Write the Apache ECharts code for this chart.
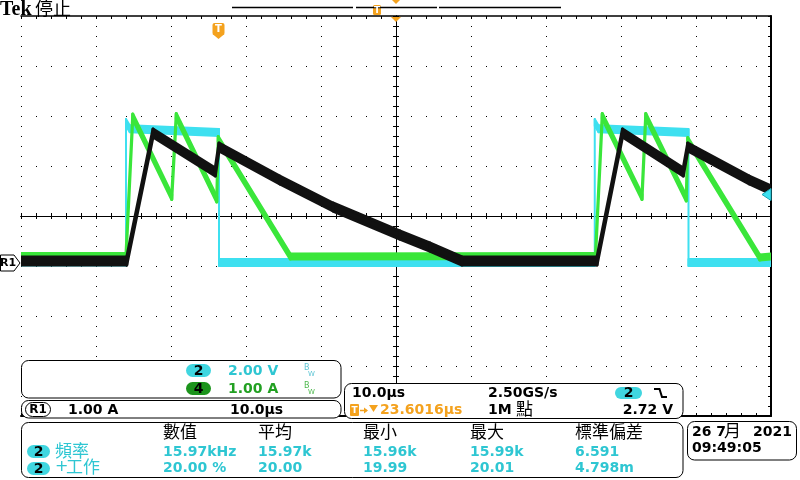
<!DOCTYPE html>
<html><head><meta charset="utf-8">
<script src="https://cdn.jsdelivr.net/npm/echarts@6/dist/echarts.min.js"></script>
<style>html,body{margin:0;padding:0;background:#fff}#c{width:800px;height:480px}</style>
</head><body><div id="c"></div>
<script>
// ---------------- data (time in µs relative to screen centre) ----------------
const cyanTimes  = [-50, -36.0, -36.0, -35.5, -23.6, -23.6, 26.5, 26.5, 27.0, 39.0, 39.0, 50];
const cyanVolts  = [0.02, 0.02, 5.6, 5.35, 5.2, 0.0, 0.0, 5.6, 5.35, 5.2, 0.0, 0.0];

const greenTimes = [-50, -36.0, -35.1, -29.9, -29.3, -23.9, -23.7, -14.1, 26.6, 27.5, 32.8, 33.3, 38.7, 38.9, 48.5, 50];
const greenAmps  = [0.13, 0.13, 2.92, 1.31, 2.93, 1.26, 2.47, 0.12, 0.13, 2.93, 1.31, 2.93, 1.28, 2.45, 0.10, 0.12];

const refTimes   = [-50, -35.9, -32.4, -24.1, -23.6, -15.5, -8.4, 0.5, 4.5, 8.8, 26.8, 30.2, 38.3, 38.9, 47.1, 50];
const refAmps    = [0.03, 0.03, 2.59, 1.81, 2.31, 1.65, 1.11, 0.55, 0.31, 0.03, 0.03, 2.59, 1.81, 2.31, 1.65, 1.45];

const timePerDiv = 10;       // µs/div
const ch2VoltsPerDiv = 2.0;  // V/div
const ampsPerDiv = 1.0;      // A/div (ch4 and R1)
const triggerLevelV = 2.72;
const triggerPosUs = -23.6016;

const chanRows = [['2', '2.00 V'], ['4', '1.00 A']];
const refRow = ['R1', '1.00 A', '10.0µs'];
const horizRow1 = ['10.0µs', '2.50GS/s', '2'];
const horizRow2 = ['23.6016µs', '1M', '點', '2.72 V'];
const measHeaders = ['數值', '平均', '最小', '最大', '標準偏差'];
const measRow1 = ['15.97kHz', '15.97k', '15.96k', '15.99k', '6.591'];
const measRow2 = ['20.00 %', '20.00', '19.99', '20.01', '4.798m'];
const measNames = ['頻率', '工作'];
const dateText = ['26 7', '月', '2021', '09:49:05'];

// ---------------- layout / style ----------------
const GROUND_DIV = -0.93;
const CYAN = '#3ee0f0', GREEN = '#3ae63a', BLACK = '#111111';
const CYAN_TXT = '#2ec6d2', GREEN_TXT = '#22a022', CYAN_PILL = '#40d6e0', GREEN_PILL = '#1c941c', ORANGE = '#f4a21e';
const NUM = 'bold 14px "DejaVu Sans"';
const CJK = '17px "Noto Sans CJK TC"';
const T_MIN = -5 * timePerDiv, T_MAX = 5 * timePerDiv;
function rect() { return {left: 21, top: 16, width: 750, height: 400, outerBoundsMode: 'none'}; }

const chart = echarts.init(document.getElementById('c'), null, {renderer: 'canvas'});

function band(name, times, vals, yIdx, color, half, lw, z) {
  const data = times.map((t, i) => [t, vals[i]]);
  return {
    type: 'custom', name, xAxisIndex: 5, yAxisIndex: yIdx, z, clip: true, silent: true,
    data, encode: {x: 0, y: 1},
    renderItem(params, api) {
      const i = params.dataIndex;
      if (i >= data.length - 1) return null;
      const p1 = api.coord(data[i]), p2 = api.coord(data[i + 1]);
      return {
        type: 'polygon',
        shape: {points: [[p1[0], p1[1] - half], [p2[0], p2[1] - half], [p2[0], p2[1] + half], [p1[0], p1[1] + half]]},
        style: {fill: color, stroke: color, lineWidth: lw, lineJoin: 'round'}
      };
    }
  };
}

const tickStyle = {color: '#000', width: 1};
function ax(isX, grid, pos, opts) {
  const a = {type: 'value', gridIndex: grid, position: pos,
    min: isX ? T_MIN : -4, max: isX ? T_MAX : 4, interval: isX ? timePerDiv : 1,
    axisLabel: {show: false}, splitLine: {show: false},
    axisLine: {show: true, onZero: opts.onZeroIdx != null, lineStyle: {color: '#000', width: opts.line || 1}},
    axisTick: {show: true, inside: true, length: 3, lineStyle: tickStyle},
    minorTick: {show: true, splitNumber: 5, length: 3, lineStyle: tickStyle}};
  if (opts.onZeroIdx != null) a.axisLine.onZeroAxisIndex = opts.onZeroIdx;
  return a;
}
// dotted graticule axes (plain configuration)
const dotX = {type: 'value', gridIndex: 0, min: T_MIN, max: T_MAX, interval: timePerDiv, axisLabel: {show: false},
  axisLine: {lineStyle: {color: '#000'}}, axisTick: {inside: true, length: 3, lineStyle: tickStyle},
  splitLine: {show: true, lineStyle: {color: '#000', width: 1, type: [1, 9]}}};
const dotY = {type: 'value', gridIndex: 0, min: -4, max: 4, interval: 1, axisLabel: {show: false},
  axisLine: {lineStyle: {color: '#000'}}, axisTick: {inside: true, length: 3, lineStyle: tickStyle},
  splitLine: {show: true, lineStyle: {color: '#000', width: 1, type: [1, 14]}}};

const option = {
  animation: false,
  grid: [rect(), rect(), rect(), rect(), rect()],
  xAxis: [
    dotX,
    ax(true, 1, 'bottom', {onZeroIdx: 1}),
    ax(true, 2, 'top', {onZeroIdx: 2}),
    ax(true, 3, 'top', {line: 1.5}),
    ax(true, 3, 'bottom', {line: 2}),
    {type: 'value', gridIndex: 4, show: false, min: T_MIN, max: T_MAX}
  ],
  yAxis: [
    dotY,
    ax(false, 1, 'left', {onZeroIdx: 1}),
    ax(false, 2, 'right', {onZeroIdx: 2}),
    ax(false, 3, 'right', {line: 2}),
    {type: 'value', gridIndex: 4, show: false, min: (-4 - GROUND_DIV) * ch2VoltsPerDiv, max: (4 - GROUND_DIV) * ch2VoltsPerDiv},
    {type: 'value', gridIndex: 4, show: false, min: (-4 - GROUND_DIV) * ampsPerDiv, max: (4 - GROUND_DIV) * ampsPerDiv}
  ],
  series: [
    band('CH2', cyanTimes, cyanVolts, 4, CYAN, 3.5, 2, 3),
    band('CH4', greenTimes, greenAmps, 5, GREEN, 2.5, 3, 4),
    band('R1', refTimes, refAmps, 5, BLACK, 4, 3, 5)
  ]
};
chart.setOption(option);

// ---------------- overlays (scope read-outs) ----------------
const Z = 100;
function rr(x, y, w, h, r, fill, stroke, lw) {
  return {type: 'rect', z: Z, shape: {x, y, width: w, height: h, r}, style: {fill: fill, stroke: stroke || null, lineWidth: lw || 1}};
}
function tx(text, x, y, font, fill, align, va) {
  return {type: 'text', z: Z + 2, x, y, style: {text, font, fill, textAlign: align || 'left', align: align || 'left',
    textVerticalAlign: va || 'middle', verticalAlign: va || 'middle'}};
}
function poly(points, fill, stroke, lw) {
  return {type: 'polygon', z: Z + 1, shape: {points}, style: {fill, stroke: stroke || null, lineWidth: lw || 1}};
}
function pl(points, stroke, lw) {
  return {type: 'polyline', z: Z + 1, shape: {points}, style: {fill: null, stroke, lineWidth: lw || 1}};
}
function pill(x, y, w, h, fill, label) {
  return [rr(x, y, w, h, h / 2, fill), tx(label, x + w / 2, y + h / 2 + 0.5, NUM, '#000', 'center')];
}

const g = [];
// header
g.push(tx('Tek', 0, 9.5, 'bold 20px "Liberation Serif"', '#000'));
g.push(tx('停止', 35, 8.5, '18px "Noto Sans CJK TC"', '#000'));
// record bar
g.push(pl([[232, 7.5], [353, 7.5]], '#000', 1.5), pl([[356, 7.5], [437, 7.5]], '#000', 1.5), pl([[439, 7.5], [561, 7.5]], '#000', 1.5));
g.push(rr(373, 5, 8, 10, 1.5, ORANGE), tx('T', 377, 10.5, 'bold 9px "DejaVu Sans"', '#fff', 'center'));
g.push(poly([[392, 0], [400, 0], [396, 4]], ORANGE));

// markers tied to the scales
const trigPx = chart.convertToPixel({xAxisIndex: 5, yAxisIndex: 5}, [triggerPosUs, 0]);
const centrePx = chart.convertToPixel({xAxisIndex: 5, yAxisIndex: 5}, [0, 0]);
const gndPx = chart.convertToPixel({xAxisIndex: 5, yAxisIndex: 5}, [0, 0]);
const lvlPx = chart.convertToPixel({xAxisIndex: 5, yAxisIndex: 4}, [T_MAX, triggerLevelV]);
const tx0 = Math.round(trigPx[0]) - 0.5;
g.push(rr(tx0 - 6, 23, 12, 12, 2, ORANGE), poly([[tx0 - 6, 34], [tx0 + 6, 34], [tx0, 39]], ORANGE),
  tx('T', tx0, 29.5, 'bold 10px "DejaVu Sans"', '#fff', 'center'));
g.push(poly([[centrePx[0] - 5, 17], [centrePx[0] + 5, 17], [centrePx[0], 22]], ORANGE));
const gy = Math.round(gndPx[1]);
g.push(poly([[0.5, gy - 8], [14, gy - 8], [20, gy], [14, gy + 8], [0.5, gy + 8]], '#fff', '#000', 1),
  tx('R1', 8, gy + 0.5, 'bold 11px "DejaVu Sans"', '#000', 'center'));
g.push(poly([[lvlPx[0] - 9, lvlPx[1]], [lvlPx[0], lvlPx[1] - 6], [lvlPx[0], lvlPx[1] + 6]], CYAN, '#1aa6b6', 1));

// panel A (channels)
g.push(rr(21.5, 360.5, 319.5, 37.5, 7, '#fff', '#000', 1));
g.push(...pill(186, 364, 25, 13, CYAN_PILL, chanRows[0][0]));
g.push(tx(chanRows[0][1], 228, 371, NUM, CYAN_TXT));
g.push(tx('B', 304, 368, '8px "DejaVu Sans"', '#5cc4d4'), tx('W', 308, 374, '7px "DejaVu Sans"', '#5cc4d4'));
g.push(...pill(186, 382, 25, 13, GREEN_PILL, chanRows[1][0]));
g.push(tx(chanRows[1][1], 228, 389, NUM, GREEN_TXT));
g.push(tx('B', 304, 386, '8px "DejaVu Sans"', '#4cb84c'), tx('W', 308, 392, '7px "DejaVu Sans"', '#4cb84c'));

// panel B (reference)
g.push(rr(21.5, 400.5, 319.5, 17.5, 7, '#fff', '#000', 1));
g.push(rr(25.5, 402.5, 25, 14, 7, '#fff', '#000', 1), tx(refRow[0], 38, 410, 'bold 12px "DejaVu Sans"', '#000', 'center'));
g.push(tx(refRow[1], 68, 410, NUM, '#000'), tx(refRow[2], 230, 410, NUM, '#000'));

// panel C (horizontal / trigger)
g.push(rr(344.5, 383.5, 338.5, 35, 7, '#fff', '#000', 1));
g.push(tx(horizRow1[0], 352, 393, NUM, '#000'), tx(horizRow1[1], 488, 393, NUM, '#000'));
g.push(...pill(615, 387, 27, 12, CYAN_PILL, horizRow1[2]));
g.push(pl([[654, 389], [659.5, 389], [662, 397], [667, 397]], '#000', 2));
g.push(rr(350, 404, 9, 12, 1, ORANGE), tx('T', 354.5, 410.5, 'bold 9px "DejaVu Sans"', '#fff', 'center'));
g.push(pl([[360, 410.5], [367, 410.5]], ORANGE, 1.5), poly([[364, 407.5], [368, 410.5], [364, 413.5]], ORANGE));
g.push(poly([[369, 405], [378, 405], [373.5, 412]], ORANGE));
g.push(tx(horizRow2[0], 380, 410, NUM, ORANGE));
g.push(tx(horizRow2[1], 488, 410, NUM, '#000'), tx(horizRow2[2], 516, 409, CJK, '#000'));
g.push(tx(horizRow2[3], 673, 410, NUM, '#000', 'right'));

// panel D (measurements)
g.push(rr(21.5, 422.5, 661.5, 55, 7, '#fff', '#000', 1));
const colX = [163, 258, 363, 470, 575];
measHeaders.forEach((h, i) => g.push(tx(h, colX[i], 432, CJK, '#000')));
g.push(...pill(27, 445, 23, 13, CYAN_PILL, '2'), tx(measNames[0], 55, 451, CJK, CYAN_TXT));
measRow1.forEach((v, i) => g.push(tx(v, colX[i], 452, NUM, CYAN_TXT)));
g.push(...pill(27, 462, 23, 13, CYAN_PILL, '2'), tx('+', 55, 467, '16px "DejaVu Sans"', CYAN_TXT), tx(measNames[1], 66, 467, CJK, CYAN_TXT));
measRow2.forEach((v, i) => g.push(tx(v, colX[i], 468, NUM, CYAN_TXT)));

// panel E (date)
g.push(rr(687.5, 421.5, 109, 38.5, 7, '#fff', '#000', 1));
g.push(tx(dateText[0], 692, 432, NUM, '#000'), tx(dateText[1], 724, 431, CJK, '#000'), tx(dateText[2], 792, 432, NUM, '#000', 'right'));
g.push(tx(dateText[3], 692, 448, NUM, '#000'));

chart.setOption({graphic: {elements: g}});
</script>
</body></html>
